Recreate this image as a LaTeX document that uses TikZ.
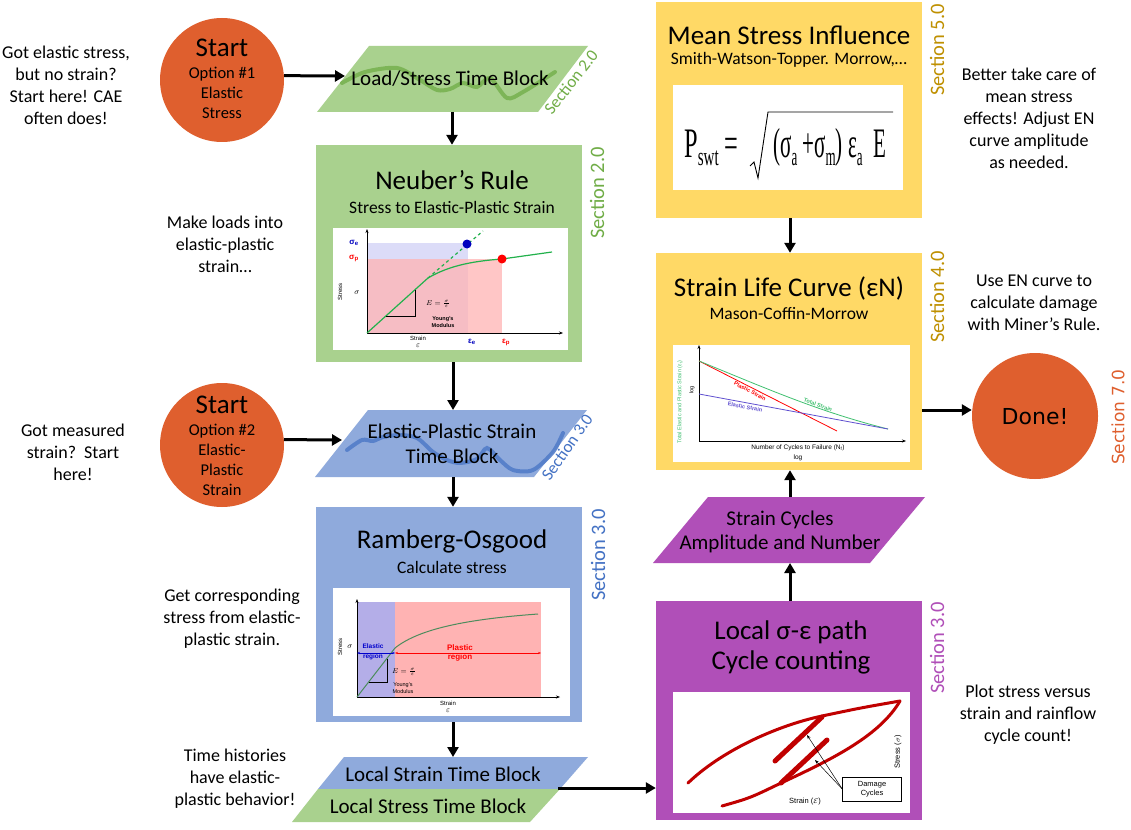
\documentclass[tikz,border=0pt]{standalone}
\usepackage{fontspec}
\setmainfont{Carlito}
\newfontfamily\dvs{DejaVu Sans}
\newfontfamily\ars{Liberation Sans}
\newfontfamily\tnr{Liberation Serif}
\usetikzlibrary{arrows.meta}
\newcommand{\fsz}[2]{\fontsize{#1}{#2}\selectfont}
\newcommand{\sbs}[1]{{\fontsize{26}{26}\selectfont\raisebox{-7pt}{#1}}}
\definecolor{corange}{HTML}{DF5F2E}
\definecolor{cgreen}{HTML}{A9D18E}
\definecolor{cgreenD}{HTML}{70AD47}
\definecolor{cblue}{HTML}{8FAADC}
\definecolor{cblueD}{HTML}{4472C4}
\definecolor{cpurple}{HTML}{B04FB8}
\definecolor{cyellow}{HTML}{FFD966}
\definecolor{cgold}{HTML}{BF9000}
\definecolor{plotgreen}{HTML}{22B14C}
\definecolor{lav}{HTML}{B4AEE8}
\definecolor{pinkr}{HTML}{FFB3B3}
\definecolor{lavlt}{HTML}{DCDCF8}
\definecolor{hred}{HTML}{C00000}
\definecolor{enblue}{HTML}{6050D0}
\definecolor{engreen}{HTML}{40C070}
\definecolor{rocurve}{HTML}{4C8C5C}
\tikzset{
  arr/.style={line width=3pt,-{Triangle[length=10pt,width=11pt]}},
  circ/.style={circle,fill=corange,minimum size=124pt,inner sep=0pt},
  bigbox/.style={minimum width=266pt,inner sep=0pt},
  img/.style={fill=white,inner sep=0pt},
  note/.style={align=center,font=\fsz{18}{22}},
  ttl/.style={font=\fsz{27}{30}},
  sub/.style={font=\fsz{17.5}{20}},
  ptxt/.style={font=\fsz{21}{25}},
  sec/.style={rotate=90,font=\fsz{20.5}{22}},
  plab/.style={font=\ars\bfseries\fsz{6.5}{7.5},inner sep=0pt},
  plabn/.style={font=\ars\fsz{6}{7},inner sep=0pt},
  axis/.style={line width=0.6pt,-{Stealth[length=4pt,width=3pt]}},
}
\begin{document}
\begin{tikzpicture}[x=1pt,y=-1pt]
\useasboundingbox (0,0) rectangle (1131,829);
\fill[white] (0,0) rectangle (1131,829);

% ---------- Notes ----------
\node[note] (n1) at (66,85) {Got elastic stress,\\but no strain?\\Start here! CAE\\often does!};
\node[note] (n2) at (225,244) {Make loads into\\elastic-plastic\\strain…};
\node[note] (n3) at (73,452) {Got measured\\strain?\ \ Start\\here!};
\node[note] (n4) at (232,619) {Get corresponding\\stress from elastic-\\plastic strain.};
\node[note] (n5) at (235,779) {Time histories\\have elastic-\\plastic behavior!};
\node[note] (n6) at (1029,118) {Better take care of\\mean stress\\effects! Adjust EN\\curve amplitude\\as needed.};
\node[note] (n7) at (1034,303) {Use EN curve to\\calculate damage\\with Miner’s Rule.};
\node[note] (n8) at (1028,715) {Plot stress versus\\strain and rainflow\\cycle count!};

% ---------- Start circles ----------
\node[circ] (s1) at (222,80) {};
\node[font=\fsz{27}{30}] (s1t) at (222,48) {Start};
\node[align=center,font=\fsz{16.5}{20}] (s1o) at (222,93) {Option \#1\\Elastic\\Stress};
\node[circ] (s2) at (222,445) {};
\node[font=\fsz{27}{30}] (s2t) at (222,405) {Start};
\node[align=center,font=\fsz{16.5}{20}] (s2o) at (222,460) {Option \#2\\Elastic-\\Plastic\\Strain};

% ---------- Parallelogram 1 ----------
\fill[cgreen] (369,46) -- (588,46) -- (538,112) -- (317,112) -- cycle;
\draw[cgreenD!85!cgreen,line width=4pt,line cap=round,opacity=0.9] plot[smooth] coordinates {(342,83) (365,72) (397,68) (420,80) (437,90) (450,89) (463,83) (477,87) (490,78) (507,98) (523,92) (555,72)};
\node[ptxt] (p1t) at (450,79) {Load/Stress Time Block};
\node[font=\fsz{17}{18},text=cgreenD,rotate=52] (p1s) at (571,82) {Section 2.0};
\coordinate (p1L) at (345,76);
\coordinate (p1B) at (452,112);

% ---------- Neuber box ----------
\node[bigbox,fill=cgreen,minimum height=217pt] (neuber) at (449,253.5) {};
\node[ttl] (neubert) at (452,180) {Neuber’s Rule};
\node[sub] (neubers) at (452,207) {Stress to Elastic-Plastic Strain};
\node[sec,text=cgreenD] (sec2) at (597,193) {Section 2.0};
\node[img,minimum width=235pt,minimum height=122pt] (nimg) at (450.5,289) {};
\fill[lavlt] (367,243) rectangle (468,333);
\fill[pinkr,opacity=0.75] (367,259) rectangle (502,333);
\draw[axis] (367,333) -- (367,229);
\draw[axis] (367,333) -- (563,333);
\draw[plotgreen,line width=1.2pt] (367,333) -- (428,278) .. controls (450,265) and (475,261) .. (502,259) -- (552,252);
\draw[plotgreen,line width=1.2pt,dashed] (428,278) -- (483,231);
\draw[line width=0.5pt] (386,316) -- (415,316) -- (415,290);
\fill[blue!75!black] (467,244) circle (4.5pt);
\fill[red] (502,259) circle (4.5pt);
\node[plab,text=blue!75!black,font=\ars\bfseries\fsz{8}{9}] (nse) at (354,243) {σ\textsubscript{e}};
\node[plab,text=red,font=\ars\bfseries\fsz{8}{9}] (nsp) at (354,259) {σ\textsubscript{p}};
\node[plabn,rotate=90] (nst) at (340,292) {Stress};
\node[inner sep=0pt,font=\fsz{8}{9}] (nsg) at (357,293) {$\sigma$};
\node[inner sep=0pt,font=\fsz{7}{8}] (nE) at (438,304) {$E=\frac{\sigma}{\varepsilon}$};
\node[plab,align=center,font=\ars\bfseries\fsz{5.5}{7}] (nym) at (443,322) {Young’s\\Modulus};
\node[plabn] (nstr) at (418,338) {Strain};
\node[inner sep=0pt,font=\fsz{8}{9}] (neps) at (418,346) {$\varepsilon$};
\node[plab,text=blue!75!black,font=\ars\bfseries\fsz{8}{9}] (nee) at (472,342) {ε\textsubscript{e}};
\node[plab,text=red,font=\ars\bfseries\fsz{8}{9}] (nep) at (506,342) {ε\textsubscript{p}};

% ---------- Parallelogram 2 ----------
\fill[cblue] (368,410) -- (587,410) -- (534,477) -- (315,477) -- cycle;
\draw[cblueD!80!cblue,line width=4pt,line cap=round,opacity=0.9] plot[smooth] coordinates {(347,450) (362,440) (373,441) (383,437) (400,435) (417,438) (433,452) (447,460) (460,463) (477,459) (487,448) (500,460) (513,470) (533,470) (553,452) (563,433)};
\node[align=center,font=\fsz{21}{25}] (p2t) at (452,444) {Elastic-Plastic Strain\\Time Block};
\node[font=\fsz{17}{18},text=cblueD,rotate=55] (p2s) at (567,447) {Section 3.0};
\coordinate (p2L) at (342,440);
\coordinate (p2T) at (453,410);
\coordinate (p2B) at (453,477);

% ---------- Ramberg-Osgood box ----------
\node[bigbox,fill=cblue,minimum height=215pt] (ramb) at (449,614.5) {};
\node[ttl] (rambt) at (452,541) {Ramberg-Osgood};
\node[sub] (rambs) at (452,567) {Calculate stress};
\node[sec,text=cblueD] (sec3a) at (598,555) {Section 3.0};
\node[img,minimum width=237pt,minimum height=128pt] (rimg) at (451.5,652) {};
\fill[lav] (357,602) rectangle (395,697);
\fill[pinkr] (395,602) rectangle (541,697);
\draw[axis] (357,697) -- (357,599);
\draw[axis] (357,697) -- (560,697);
\draw[rocurve,line width=1pt] (357,697) -- (395,648) .. controls (420,628) and (470,619) .. (538,614);
\draw[blue!80!black,line width=0.8pt,{Stealth[length=3pt]}-{Stealth[length=3pt]}] (357,653) -- (395,653);
\draw[red,line width=0.8pt,{Stealth[length=3pt]}-{Stealth[length=3pt]}] (395,653) -- (541,653);
\node[plab,text=blue!80!black,align=center,font=\ars\bfseries\fsz{6.5}{10}] (rel) at (373,652) {Elastic\\region};
\node[plab,text=red,align=center,font=\ars\bfseries\fsz{8}{9}] (rpl) at (460,653) {Plastic\\region};
\draw[line width=0.5pt] (369,682) -- (387,682) -- (387,659);
\node[inner sep=0pt,font=\fsz{7}{8}] (rE) at (404,672) {$E=\frac{\sigma}{\varepsilon}$};
\node[plabn,align=center,font=\ars\fsz{5.5}{7}] (rym) at (403,688) {Young’s\\Modulus};
\node[plabn,rotate=90] (rst) at (340,647) {Stress};
\node[inner sep=0pt,font=\fsz{8}{9}] (rsg) at (350,647) {$\sigma$};
\node[plabn] (rstr) at (448,703) {Strain};
\node[inner sep=0pt,font=\fsz{8}{9}] (reps) at (448,711) {$\varepsilon$};

% ---------- Double parallelogram ----------
\fill[cblue] (344,757) -- (588,757) -- (560,789) -- (318,789) -- cycle;
\fill[cgreen] (318,789) -- (560,789) -- (530,822) -- (292,822) -- cycle;
\node[font=\fsz{21}{24}] (lst) at (443,774) {Local Strain Time Block};
\node[font=\fsz{21}{24}] (lss) at (428,806) {Local Stress Time Block};
\coordinate (dT) at (453,757);
\coordinate (dR) at (558,788);

% ---------- Mean stress box ----------
\node[bigbox,fill=cyellow,minimum height=216pt] (mean) at (789,110) {};
\node[ttl] (meant) at (789,35) {Mean Stress Influence};
\node[sub] (means) at (789,60) {Smith-Watson-Topper. Morrow,…};
\node[sec,text=cgold] (sec5) at (937,50) {Section 5.0};
\node[img,minimum width=230pt,minimum height=105pt] (mimg) at (788,137.5) {};
\node[anchor=base west,inner sep=0pt] (fP) at (684,158) {\scalebox{0.58}[1]{\tnr\fsz{42}{42}P\sbs{swt} =}};
\draw[line width=0.9pt] (750,166) -- (754,162) -- (758,178) -- (768,112) -- (893,112);
\node[anchor=base west,inner sep=0pt] (fR) at (773,158) {\scalebox{0.5}[1]{\tnr\fsz{42}{42}(σ\sbs{a} +σ\sbs{m}) ε\sbs{a}\ \ E}};

% ---------- Strain life box ----------
\node[bigbox,fill=cyellow,minimum height=217pt] (sl) at (789,361.5) {};
\node[ttl] (slt) at (789,288) {Strain Life Curve (εN)};
\node[sub] (sls) at (789,314) {Mason-Coffin-Morrow};
\node[sec,text=cgold] (sec4) at (937,297) {Section 4.0};
\node[img,minimum width=237pt,minimum height=117pt] (simg) at (791.5,403.5) {};
\draw[axis] (699,441) -- (699,345);
\draw[axis] (699,441) -- (906,441);
\draw[red,line width=0.8pt] (699,361) -- (837,431);
\draw[engreen,line width=0.8pt] (699,361) .. controls (770,390) and (820,412) .. (888,429);
\draw[enblue,line width=0.8pt] (699,394) -- (888,429);
\node[plab,text=red,rotate=-27,font=\ars\bfseries\fsz{5.5}{6}] (epl) at (750,391) {Plastic Strain};
\node[plab,text=enblue,rotate=-10,font=\ars\bfseries\fsz{5.5}{6}] (eel) at (745,407) {Elastic Strain};
\node[plab,text=engreen,rotate=-20,font=\ars\bfseries\fsz{5.5}{6}] (eto) at (818,405) {Total Strain};
\node[plabn,font=\ars\fsz{6.5}{7.5}] (ex) at (798,448) {Number of Cycles to Failure (N\textsubscript{f})};
\node[plabn,font=\ars\fsz{6.5}{7.5}] (exl) at (798,458) {log};
\node[plabn,rotate=90,text=engreen,font=\ars\fsz{5.5}{6.5}] (ey) at (680,402) {Total Elastic and Plastic Strain (ε\textsubscript{t})};
\node[plabn,rotate=90,font=\ars\fsz{5.5}{6.5}] (eyl) at (692,390) {log};

% ---------- Purple parallelogram ----------
\fill[cpurple] (708,497) -- (925,497) -- (870,563) -- (653,563) -- cycle;
\node[align=center,font=\fsz{21}{24}] (p3t) at (780,532) {Strain Cycles\\Amplitude and Number};
\coordinate (p3T) at (790,497);
\coordinate (p3B) at (790,563);

% ---------- Local path box ----------
\node[bigbox,fill=cpurple,minimum height=219pt] (loc) at (789,710.5) {};
\node[align=center,font=\fsz{27}{30}] (loct) at (791,647) {Local σ-ε path\\Cycle counting};
\node[sec,text=cpurple] (sec3b) at (937,648) {Section 3.0};
\node[img,minimum width=237pt,minimum height=121pt] (himg) at (791.5,752.5) {};
\draw[hred,line width=3pt,line cap=round] (688,783) .. controls (720,752) and (775,726) .. (822,716) .. controls (860,708) .. (900,701);
\draw[hred,line width=3pt,line cap=round] (722,806) .. controls (750,798) .. (781,783) .. controls (835,758) and (880,735) .. (900,701);
\draw[hred,line width=5pt,line cap=round] (775,761) -- (822,717);
\draw[hred,line width=5pt,line cap=round] (781,783) -- (827,740);
\node[draw,line width=0.5pt,fill=white,align=center,font=\ars\fsz{7.5}{9},minimum width=59pt,minimum height=24pt,inner sep=0pt] (dmg) at (872,789) {Damage\\Cycles};
\draw[line width=0.5pt,-{Stealth[length=4pt,width=3pt]}] (dmg.west) -- (807,735);
\draw[line width=0.5pt,-{Stealth[length=4pt,width=3pt]}] (dmg.west) -- (815,760);
\node[plabn,font=\ars\fsz{7.5}{9}] (hstr) at (805,802) {Strain ($\mathcal{E}$)};
\node[plabn,rotate=90,font=\ars\fsz{7.5}{9}] (hsts) at (898,752) {Stress ($\sigma$)};

% ---------- Done ----------
\node[circle,fill=corange,minimum size=126pt,inner sep=0pt] (done) at (1035,416) {};
\node[font=\dvs\fsz{22}{26}] (donet) at (1035,417) {Done!};
\node[rotate=90,font=\dvs\fsz{17}{20},text=corange] (sec7) at (1118,417) {Section 7.0};

% ---------- Connectors ----------
\draw[arr] (s1.4) -- (p1L);
\draw[arr] (p1B) -- (p1B |- neuber.north);
\draw[arr] (neuber.south -| p2T) -- (p2T);
\draw[arr] (s2.5) -- (p2L);
\draw[arr] (p2B) -- (p2B |- ramb.north);
\draw[arr] (ramb.south -| dT) -- (dT);
\draw[arr] (dR) -- (dR -| loc.west);
\draw[arr] (loc.north -| p3B) -- (p3B);
\draw[arr] (p3T) -- (p3T |- sl.south);
\draw[arr] (mean.south -| p3T) -- (p3T |- sl.north);
\draw[arr] (sl.east |- 0,410) -- (done.west |- 0,410);
\end{tikzpicture}
\end{document}
